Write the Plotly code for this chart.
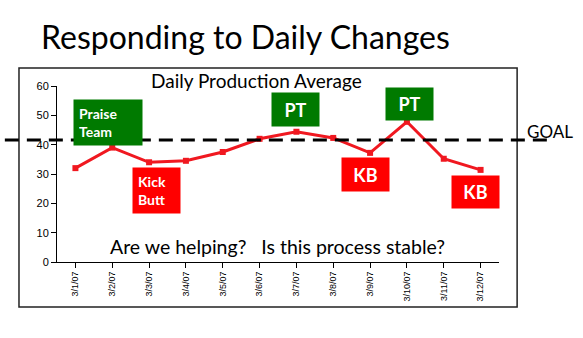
import plotly.graph_objects as go

dates = ["3/1/07", "3/2/07", "3/3/07", "3/4/07", "3/5/07", "3/6/07",
         "3/7/07", "3/8/07", "3/9/07", "3/10/07", "3/11/07", "3/12/07"]
production = [32, 39, 34, 34.5, 37.5, 42, 44.4, 42.3, 37.2, 47.8, 35.2, 31.4]
goal = 41.6
y_ticks = [0, 10, 20, 30, 40, 50, 60]

# callout boxes: text, category position (index), y centre, width, height, colour, font size, align
callout_text = ["Praise<br>Team", "Kick<br>Butt", "PT", "KB", "PT", "KB"]
callout_x = [0.885, 2.20, 5.98, 7.88, 9.07, 10.86]
callout_y = [47.6, 24.4, 52.0, 29.8, 53.9, 23.9]
callout_w = [68, 47, 47, 47, 47, 47]
callout_h = [45, 45, 33, 33, 32, 32]
callout_c = ["#007a00", "#ff0000", "#007a00", "#ff0000", "#007a00", "#ff0000"]
callout_fs = [14, 14, 18, 18, 18, 18]
callout_al = ["left", "left", "center", "center", "center", "center"]

fig = go.Figure()
fig.add_trace(go.Scatter(
    x=list(range(len(dates))), y=production, mode="lines+markers",
    line=dict(color="#f01820", width=3),
    marker=dict(symbol="square", size=6, color="#f01820"),
    showlegend=False, cliponaxis=False))

# goal line
fig.add_shape(type="line", xref="paper", yref="y", x0=-0.118, x1=1.109, y0=goal, y1=goal,
              line=dict(color="black", width=3, dash="14px,8px"))
# outer frame
fig.add_shape(type="rect", xref="paper", yref="paper", x0=-0.086, x1=1.041, y0=-0.256, y1=1.102,
              line=dict(color="#222", width=1.5), fillcolor="rgba(0,0,0,0)", layer="below")

pad = 5
for t, x, y, w, h, c, fs, al in zip(callout_text, callout_x, callout_y, callout_w, callout_h,
                                    callout_c, callout_fs, callout_al):
    fig.add_annotation(x=x, y=y, xref="x", yref="y", text="<b>%s</b>" % t, showarrow=False,
                       width=w - 2 * pad, height=h - 2 * pad, bgcolor=c, borderpad=pad, align=al,
                       font=dict(color="white", size=fs, family="Lato"))

fig.add_annotation(xref="paper", yref="y", x=1.058, y=44.4, xanchor="left", yanchor="middle",
                   text="GOAL", showarrow=False, font=dict(size=17, color="black", family="Lato"))
fig.add_annotation(xref="paper", yref="paper", x=0.452, y=1.03, xanchor="center", yanchor="middle",
                   text="Daily Production Average", showarrow=False,
                   font=dict(size=19, color="black", family="Lato"))
fig.add_annotation(xref="paper", yref="paper", x=0.498, y=0.09, xanchor="center", yanchor="middle",
                   text="Are we helping?&nbsp;&nbsp; Is this process stable?", showarrow=False,
                   font=dict(size=19.5, color="black", family="Lato"))
fig.add_annotation(xref="paper", yref="paper", x=0.426, y=1.284, xanchor="center", yanchor="middle",
                   text="Responding to Daily Changes", showarrow=False,
                   font=dict(size=32, color="black", family="Lato"))

fig.update_layout(
    width=583, height=338, margin=dict(l=57, r=84, t=86, b=76),
    paper_bgcolor="white", plot_bgcolor="white",
    xaxis=dict(tickmode="array", tickvals=list(range(len(dates))), ticktext=dates,
               range=[-0.5, len(dates) - 0.5], showgrid=False, zeroline=False,
               showline=True, linecolor="black", linewidth=1, ticks="outside",
               tickson="boundaries", ticklen=5, tickcolor="black", tickangle=-90,
               tickfont=dict(size=9, family="Liberation Sans", color="black")),
    yaxis=dict(range=[0, 60], tickvals=y_ticks, showgrid=False, zeroline=False,
               showline=True, linecolor="black", linewidth=1, ticks="outside",
               ticklen=5, tickcolor="black",
               tickfont=dict(size=11, family="Liberation Sans", color="black")),
)

fig.write_html("out.html")
